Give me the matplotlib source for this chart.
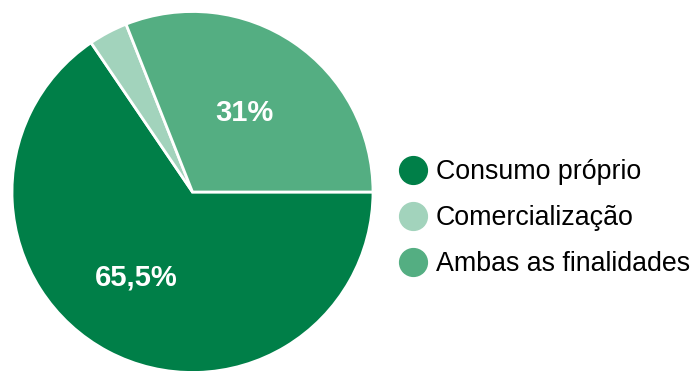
import matplotlib.pyplot as plt
from matplotlib.lines import Line2D

plt.rcParams['font.family'] = ['Liberation Sans', 'DejaVu Sans']

# finalidade da produção
categorias = ['Consumo próprio', 'Comercialização', 'Ambas as finalidades']
percentuais = [65.5, 3.5, 31.0]
rotulos = ['65,5%', '', '31%']
cores = ['#007f48', '#a2d3bc', '#54ae82']

W, H = 696, 371
fig = plt.figure(figsize=(W / 100, H / 100), dpi=100)

# pie centred at (192.5, 192) px from top-left, radius 180.5 px
cx, cy, r = 192.5, 192, 180.5
ax = fig.add_axes([(cx - r) / W, (H - cy - r) / H, 2 * r / W, 2 * r / H])
wedges, _ = ax.pie(percentuais, colors=cores, startangle=0, counterclock=False,
                   radius=1.0, wedgeprops=dict(edgecolor='white', linewidth=2))
ax.set_xlim(-1, 1)
ax.set_ylim(-1, 1)
ax.set_aspect('equal')
ax.axis('off')

# value labels inside the wedges
pos_rotulos = [(-0.31, -0.475), None, (0.29, 0.44)]
for txt, pos in zip(rotulos, pos_rotulos):
    if pos is None:
        continue
    ax.text(pos[0], pos[1], txt, color='white', fontsize=21, fontweight='bold',
            ha='center', va='center')

handles = [Line2D([], [], marker='o', linestyle='none', markersize=20,
                  markerfacecolor=c, markeredgecolor=c) for c in cores]
fig.legend(handles, categorias, loc='center left',
           bbox_to_anchor=(399 / W, 1 - 218 / H), frameon=False,
           fontsize=19.3, handlelength=1.05, handletextpad=0.33,
           labelspacing=0.75, borderpad=0, borderaxespad=0)

fig.savefig('out.png', dpi=100)
